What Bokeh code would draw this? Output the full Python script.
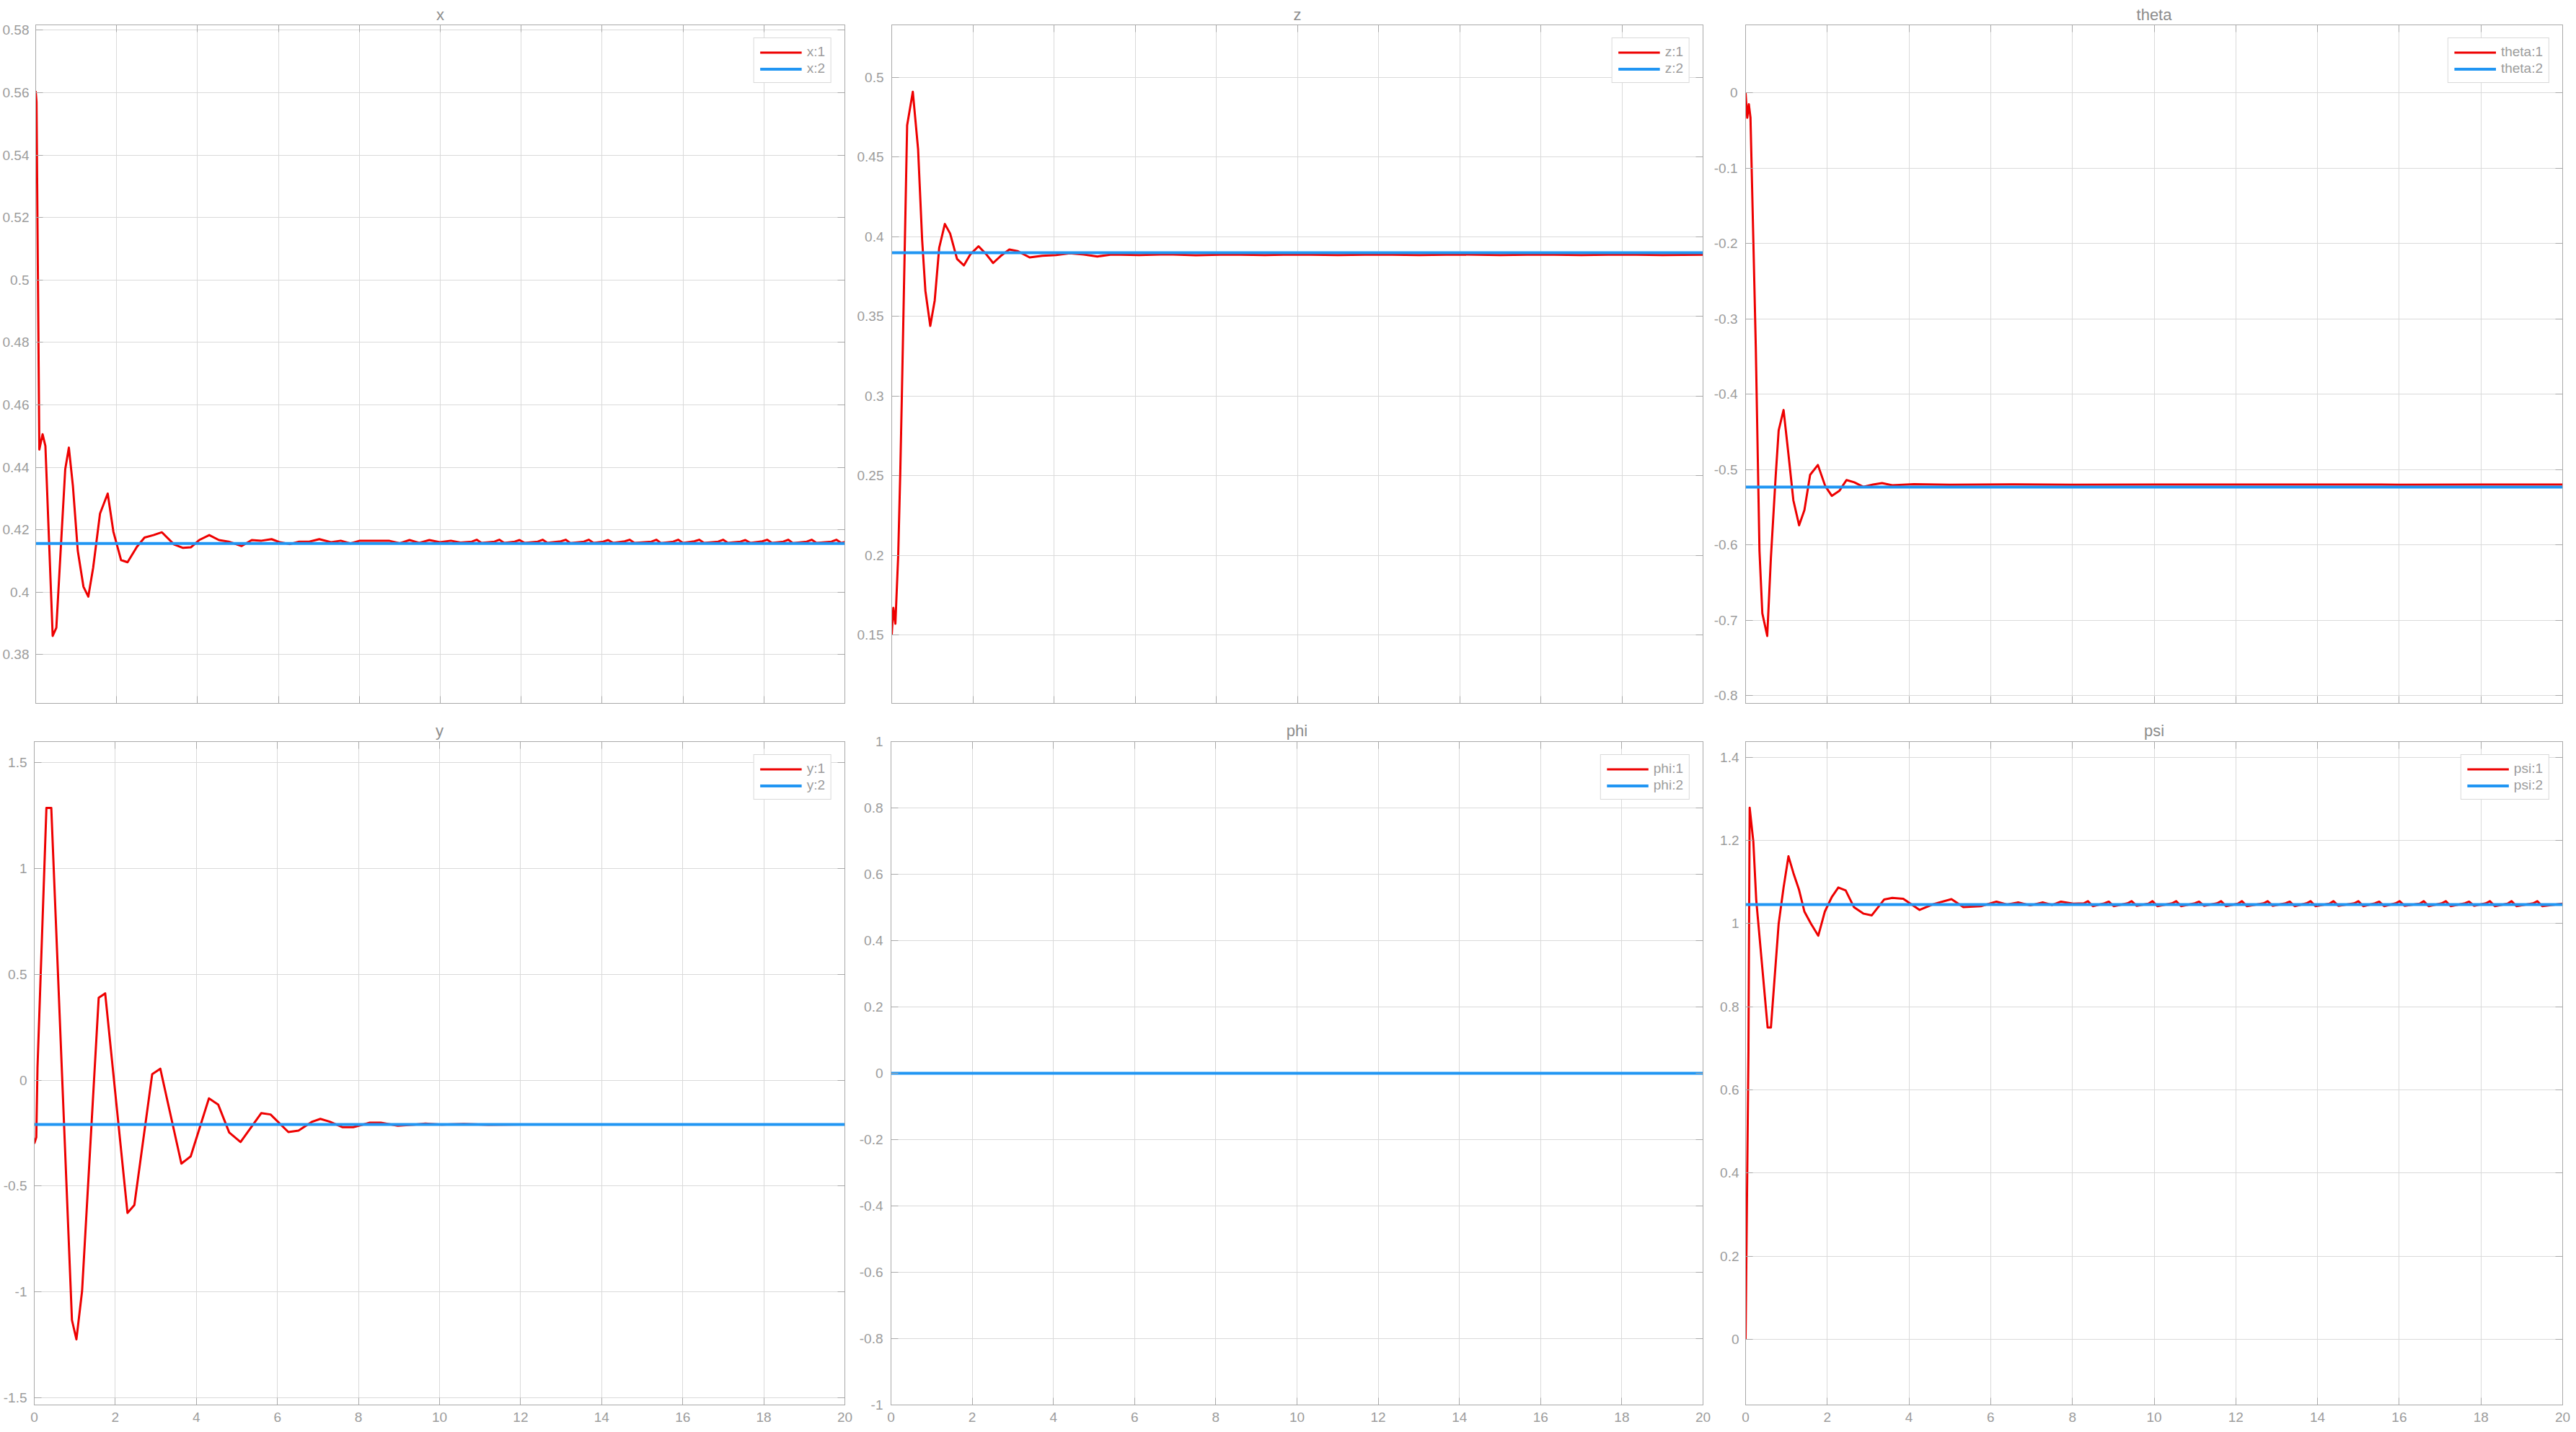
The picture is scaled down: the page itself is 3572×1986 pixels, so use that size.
from bokeh.plotting import figure
from bokeh.layouts import column, row
from bokeh.models import FixedTicker, CustomJSTickFormatter, LinearAxis, Legend, Range1d
from bokeh.embed import file_html
from bokeh.resources import INLINE

FONT = "Liberation Sans"
RED = "#ee0000"
BLUE = "#2196f3"
TICK_C = "#9c9c9c"
TITLE_C = "#8c8c8c"
AXIS_C = "#a9a9a9"
GRID_C = "#dadada"
LEG_BORDER = "#b3b3b3"

# ---------------- data ----------------
t_ticks = [0, 2, 4, 6, 8, 10, 12, 14, 16, 18, 20]
ref_t = [0, 20]

# x
x_t1 = [0.00, 0.02, 0.09, 0.17, 0.24, 0.42, 0.51, 0.73, 0.82, 0.92, 1.04, 1.18, 1.30, 1.42, 1.59, 1.78,
        1.92, 2.11, 2.27, 2.50, 2.69, 2.91, 3.12, 3.42, 3.64, 3.84, 4.04, 4.29, 4.53, 4.77, 5.09, 5.34,
        5.58, 5.83, 6.04, 6.28, 6.51, 6.76, 7.01, 7.30, 7.54, 7.78, 8.01, 8.32, 8.73, 9.00, 9.24, 9.48,
        9.73, 9.99, 10.26, 10.50,
        10.78, 10.90, 11.02, 11.34, 11.46, 11.58, 11.84, 11.96, 12.08, 12.41, 12.53, 12.65,
        12.98, 13.10, 13.22, 13.55, 13.67, 13.79, 14.03, 14.15, 14.27, 14.56, 14.68, 14.80,
        15.22, 15.34, 15.46, 15.76, 15.88, 16.00, 16.28, 16.40, 16.52, 16.87, 16.99, 17.11,
        17.42, 17.54, 17.66, 17.96, 18.08, 18.20, 18.48, 18.60, 18.72, 19.06, 19.18, 19.30,
        19.67, 19.79, 19.91, 20.00]
x_v1 = [0.5605, 0.5570, 0.4457, 0.4506, 0.4468, 0.3860, 0.3886, 0.4394, 0.4463, 0.4340, 0.4133, 0.4018,
        0.3986, 0.4078, 0.4252, 0.4316, 0.4194, 0.4103, 0.4096, 0.4145, 0.4175, 0.4183, 0.4192, 0.4153,
        0.4142, 0.4144, 0.4167, 0.4183, 0.4167, 0.4162, 0.4148, 0.4167, 0.4165, 0.4170, 0.4160, 0.4154,
        0.4162, 0.4162, 0.4170, 0.4160, 0.4165, 0.4156, 0.4165, 0.4165, 0.4165, 0.4157, 0.4167, 0.4158,
        0.4167, 0.4160, 0.4165, 0.4159,
        0.4162, 0.4168, 0.4158, 0.4162, 0.4168, 0.4158, 0.4162, 0.4167, 0.4158, 0.4162, 0.4168, 0.4158,
        0.4163, 0.4168, 0.4157, 0.4162, 0.4168, 0.4158, 0.4162, 0.4167, 0.4158, 0.4163, 0.4168, 0.4158,
        0.4162, 0.4168, 0.4157, 0.4162, 0.4168, 0.4158, 0.4163, 0.4168, 0.4158, 0.4162, 0.4168, 0.4158,
        0.4162, 0.4167, 0.4158, 0.4163, 0.4168, 0.4158, 0.4162, 0.4168, 0.4157, 0.4162, 0.4168, 0.4158,
        0.4162, 0.4168, 0.4158, 0.4161]
x_ref = [0.4156, 0.4156]
x_yrange = [0.3644, 0.5817]
x_yticks = [0.38, 0.40, 0.42, 0.44, 0.46, 0.48, 0.50, 0.52, 0.54, 0.56, 0.58]

# z
z_t1 = [0.00, 0.04, 0.09, 0.16, 0.21, 0.25, 0.38, 0.52, 0.65, 0.75, 0.83, 0.95, 1.06, 1.17, 1.31, 1.44,
        1.61, 1.78, 1.94, 2.14, 2.33, 2.50, 2.69, 2.90, 3.10, 3.40, 3.71, 4.05, 4.39, 4.74, 5.07, 5.42,
        6.10, 6.80, 7.50, 8.30, 9.20, 10.00, 11.00, 12.00, 13.00, 14.00, 15.00, 16.00, 17.00, 18.00,
        19.00, 20.00]
z_v1 = [0.150, 0.167, 0.157, 0.200, 0.251, 0.300, 0.470, 0.491, 0.455, 0.398, 0.366, 0.344, 0.360, 0.393,
        0.408, 0.402, 0.386, 0.382, 0.389, 0.394, 0.389, 0.3835, 0.388, 0.392, 0.391, 0.387, 0.388, 0.3885,
        0.3896, 0.3888, 0.3876, 0.3888, 0.3885, 0.3889, 0.3884, 0.3888, 0.3885, 0.3888, 0.3885, 0.3888,
        0.3885, 0.3888, 0.3885, 0.3888, 0.3885, 0.3888, 0.3885, 0.3887]
z_ref = [0.390, 0.390]
z_yrange = [0.107, 0.533]
z_yticks = [0.15, 0.20, 0.25, 0.30, 0.35, 0.40, 0.45, 0.50]

# theta
th_t1 = [0.00, 0.04, 0.08, 0.12, 0.19, 0.25, 0.34, 0.41, 0.53, 0.62, 0.74, 0.81, 0.93, 1.05, 1.17, 1.31,
         1.44, 1.58, 1.77, 1.95, 2.11, 2.30, 2.47, 2.66, 2.88, 3.12, 3.34, 3.59, 4.12, 5.00, 6.50, 8.00,
         10.00, 12.00, 14.00, 16.00, 18.00, 20.00]
th_v1 = [0.000, -0.033, -0.015, -0.033, -0.196, -0.337, -0.608, -0.691, -0.721, -0.617, -0.506, -0.448,
         -0.421, -0.480, -0.541, -0.574, -0.554, -0.507, -0.494, -0.522, -0.535, -0.528, -0.514, -0.517,
         -0.523, -0.520, -0.518, -0.521, -0.5195, -0.5202, -0.5198, -0.5201, -0.5199, -0.5200, -0.5199,
         -0.5201, -0.5199, -0.5200]
th_ref = [-0.5233, -0.5233]
th_yrange = [-0.8105, 0.0903]
th_yticks = [-0.8, -0.7, -0.6, -0.5, -0.4, -0.3, -0.2, -0.1, 0.0]

# y
y_t1 = [0.00, 0.05, 0.08, 0.30, 0.42, 0.93, 1.04, 1.18, 1.59, 1.75, 2.30, 2.47, 2.91, 3.11, 3.63, 3.86,
        4.31, 4.54, 4.81, 5.09, 5.60, 5.83, 6.27, 6.52, 6.86, 7.06, 7.29, 7.60, 7.87, 8.28, 8.55, 8.97,
        9.38, 9.65, 10.05, 10.60, 11.20, 12.00, 20.00]
y_v1 = [-0.300, -0.270, 0.060, 1.286, 1.286, -1.133, -1.224, -0.996, 0.389, 0.410, -0.627, -0.590, 0.028,
        0.054, -0.394, -0.360, -0.086, -0.116, -0.247, -0.292, -0.156, -0.162, -0.245, -0.238, -0.196,
        -0.183, -0.196, -0.222, -0.222, -0.201, -0.201, -0.215, -0.210, -0.205, -0.210, -0.207, -0.211,
        -0.209, -0.209]
y_ref = [-0.209, -0.209]
y_yrange = [-1.534, 1.599]
y_yticks = [-1.5, -1.0, -0.5, 0.0, 0.5, 1.0, 1.5]

# phi
phi_t1 = [0, 20]
phi_v1 = [0.0, 0.0]
phi_ref = [0.0, 0.0]
phi_yrange = [-1.0, 1.0]
phi_yticks = [-1.0, -0.8, -0.6, -0.4, -0.2, 0.0, 0.2, 0.4, 0.6, 0.8, 1.0]

# psi
psi_t1 = [0.00, 0.07, 0.10, 0.19, 0.26, 0.54, 0.62, 0.81, 0.93, 1.05, 1.17, 1.31, 1.44, 1.60, 1.78, 1.94,
          2.11, 2.27, 2.45, 2.65, 2.89, 3.09, 3.39, 3.59, 3.86, 4.26, 4.60, 5.04, 5.33, 5.76, 6.14, 6.40,
          6.67, 6.97, 7.28, 7.50, 7.72, 8.02,
          8.28, 8.38, 8.50, 8.79, 8.89, 9.01, 9.35, 9.45, 9.57, 9.86, 9.96, 10.08,
          10.44, 10.54, 10.66, 11.00, 11.10, 11.22, 11.54, 11.64, 11.76, 12.05, 12.15, 12.27,
          12.68, 12.78, 12.90, 13.22, 13.32, 13.44, 13.73, 13.83, 13.95, 14.29, 14.39, 14.51,
          14.90, 15.00, 15.12, 15.41, 15.51, 15.63, 15.91, 16.01, 16.13, 16.50, 16.60, 16.72,
          17.04, 17.14, 17.26, 17.61, 17.71, 17.83, 18.12, 18.22, 18.34, 18.65, 18.75, 18.87,
          19.28, 19.38, 19.50, 20.00]
psi_v1 = [0.000, 0.690, 1.279, 1.197, 1.058, 0.750, 0.750, 1.000, 1.087, 1.162, 1.122, 1.081, 1.029, 1.000,
          0.971, 1.029, 1.064, 1.087, 1.080, 1.040, 1.024, 1.020, 1.058, 1.062, 1.060, 1.033, 1.047, 1.059,
          1.040, 1.042, 1.053, 1.046, 1.051, 1.044, 1.051, 1.045, 1.053, 1.048,
          1.049, 1.054, 1.042, 1.049, 1.053, 1.042, 1.049, 1.054, 1.043, 1.048, 1.054, 1.042,
          1.049, 1.054, 1.042, 1.049, 1.053, 1.043, 1.049, 1.054, 1.042, 1.048, 1.054, 1.042,
          1.049, 1.054, 1.043, 1.049, 1.053, 1.042, 1.049, 1.054, 1.042, 1.048, 1.054, 1.043,
          1.049, 1.054, 1.042, 1.049, 1.053, 1.042, 1.049, 1.054, 1.043, 1.048, 1.054, 1.042,
          1.049, 1.054, 1.042, 1.049, 1.053, 1.043, 1.049, 1.054, 1.042, 1.048, 1.054, 1.042,
          1.049, 1.054, 1.042, 1.048]
psi_ref = [1.046, 1.046]
psi_yrange = [-0.158, 1.438]
psi_yticks = [0.0, 0.2, 0.4, 0.6, 0.8, 1.0, 1.2, 1.4]

for a, b in [(x_t1, x_v1), (z_t1, z_v1), (th_t1, th_v1), (y_t1, y_v1), (psi_t1, psi_v1)]:
    assert len(a) == len(b), (len(a), len(b))

# ---------------- helpers ----------------
FMT = "return String(parseFloat(tick.toFixed(4)));"


def style_axis(ax, ticks, show_labels, standoff):
    ax.ticker = FixedTicker(ticks=ticks)
    ax.formatter = CustomJSTickFormatter(code=FMT)
    ax.axis_line_color = AXIS_C
    ax.major_tick_line_color = AXIS_C
    ax.major_tick_in = 10
    ax.major_tick_out = 0
    ax.minor_tick_line_color = None
    ax.major_label_text_font = FONT
    ax.major_label_standoff = standoff
    if show_labels:
        ax.major_label_text_color = TICK_C
        ax.major_label_text_font_size = "19px"
    else:
        ax.major_label_text_color = None
        ax.major_label_text_font_size = "1px"


def make_panel(title, name, t1, v1, vref, yrange, yticks, w, h, bl, br, bt, bb, ystand, xlabels, tstand):
    p = figure(width=w, height=h, x_range=Range1d(0, 20), y_range=Range1d(yrange[0], yrange[1]),
               output_backend="svg", toolbar_location=None,
               min_border_left=bl, min_border_right=br, min_border_top=bt, min_border_bottom=bb,
               title=title, background_fill_color="white", border_fill_color="white",
               outline_line_color=AXIS_C)
    p.title.align = "center"
    p.title.text_font = FONT
    p.title.text_font_size = "22px"
    p.title.text_font_style = "normal"
    p.title.text_color = TITLE_C
    p.title.standoff = tstand
    style_axis(p.xaxis[0], t_ticks, xlabels, 10)
    style_axis(p.yaxis[0], yticks, True, ystand)
    top = LinearAxis()
    style_axis(top, t_ticks, False, 0)
    p.add_layout(top, "above")
    right = LinearAxis()
    style_axis(right, yticks, False, 0)
    p.add_layout(right, "right")
    p.xgrid.ticker = FixedTicker(ticks=t_ticks)
    p.ygrid.ticker = FixedTicker(ticks=yticks)
    p.xgrid.grid_line_color = GRID_C
    p.ygrid.grid_line_color = GRID_C
    r1 = p.line(t1, v1, line_color=RED, line_width=3, line_join="round")
    r2 = p.line(ref_t, vref, line_color=BLUE, line_width=4)
    leg = Legend(items=[(name + ":1", [r1]), (name + ":2", [r2])], location="top_right",
                 margin=18, padding=8, spacing=1, glyph_width=58, glyph_height=21, label_height=21,
                 label_standoff=7, label_text_font=FONT, label_text_font_size="19px",
                 label_text_color=TICK_C, border_line_color=LEG_BORDER, border_line_width=1,
                 background_fill_color="white", background_fill_alpha=1.0)
    p.add_layout(leg)
    return p


H1, H2 = 983, 1001
W1, W2, W3 = 1185, 1187, 1198
f1 = make_panel("x", "x", x_t1, x_v1, x_ref, x_yrange, x_yticks, W1, H1, 47, 14, 34, 8, 9, False, 4)
f2 = make_panel("z", "z", z_t1, z_v1, z_ref, z_yrange, z_yticks, W2, H1, 50, 11, 34, 8, 11, False, 4)
f3 = make_panel("theta", "theta", th_t1, th_v1, th_ref, th_yrange, th_yticks, W3, H1, 48, 17, 34, 8, 11, False, 4)
f4 = make_panel("y", "y", y_t1, y_v1, y_ref, y_yrange, y_yticks, W1, H2, 47, 14, 45, 36, 10, True, 5)
f5 = make_panel("phi", "phi", phi_t1, phi_v1, phi_ref, phi_yrange, phi_yticks, W2, H2, 50, 11, 45, 36, 11, True, 5)
f6 = make_panel("psi", "psi", psi_t1, psi_v1, psi_ref, psi_yrange, psi_yticks, W3, H2, 48, 17, 45, 36, 9, True, 5)

layout = column(row(f1, f2, f3), row(f4, f5, f6))
open("out.html", "w").write(file_html(layout, INLINE))
